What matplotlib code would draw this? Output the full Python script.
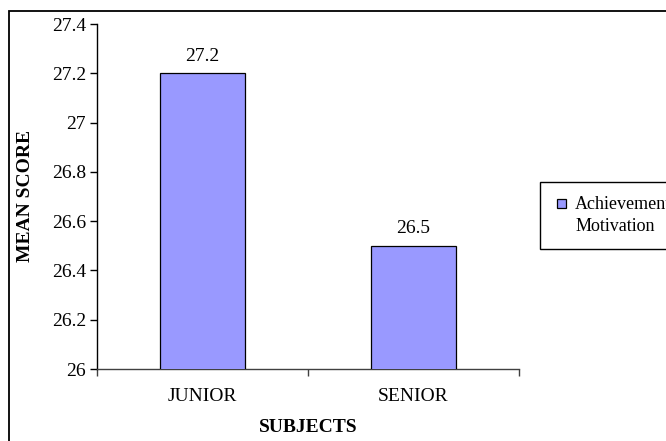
import matplotlib
matplotlib.use("Agg")
import matplotlib.pyplot as plt
from matplotlib.patches import Rectangle
from matplotlib.legend_handler import HandlerPatch
from matplotlib.ticker import FixedLocator

# data
categories = ["JUNIOR", "SENIOR"]
mean_scores = [27.2, 26.5]
series_name = "Achievement\nMotivation"
y_ticks = [26, 26.2, 26.4, 26.6, 26.8, 27, 27.2, 27.4]
y_tick_labels = ["26", "26.2", "26.4", "26.6", "26.8", "27", "27.2", "27.4"]

plt.rcParams["font.family"] = ["Liberation Serif", "DejaVu Serif"]
FS = 14

fig = plt.figure(figsize=(6.66, 4.41), dpi=100)
ax = fig.add_axes([97 / 666, 1 - 369 / 441, 422 / 666, 345 / 441])

# outer chart border (runs off right and bottom edges)
fig.patches.append(Rectangle((9 / 666, -0.2), 1.2, 1.2 - 11 / 441,
                             transform=fig.transFigure, fill=False,
                             edgecolor="black", linewidth=1.3))

x = list(range(len(categories)))
bars = ax.bar(x, mean_scores, width=0.4, color="#9999FF",
              edgecolor="black", linewidth=0.9, label=series_name, zorder=3)

for xi, v in zip(x, mean_scores):
    ax.annotate(f"{v}", (xi, v), xytext=(0, 6), textcoords="offset points",
                ha="center", va="bottom", fontsize=FS)

ax.set_xlim(-0.5, len(categories) - 0.5)
ax.set_ylim(y_ticks[0], y_ticks[-1])
ax.set_yticks(y_ticks)
ax.set_yticklabels(y_tick_labels, fontsize=FS)
ax.set_xticks(x)
ax.set_xticklabels(categories, fontsize=FS)
ax.xaxis.set_minor_locator(FixedLocator([-0.5, 0.5, 1.5]))

ax.tick_params(axis="x", which="major", length=0, pad=14)
ax.tick_params(axis="x", which="minor", length=5, width=1, color="#404040", direction="out")
ax.tick_params(axis="y", which="major", length=5, width=1, direction="out", pad=3)

for s in ["top", "right"]:
    ax.spines[s].set_visible(False)
ax.spines["left"].set_color("black")
ax.spines["bottom"].set_color("#404040")
ax.spines["left"].set_linewidth(1)
ax.spines["bottom"].set_linewidth(1)

ax.set_xlabel("SUBJECTS", fontsize=FS, fontweight="bold")
ax.xaxis.set_label_coords(0.5, (369 - 419) / 345)
ax.set_ylabel("MEAN SCORE", fontsize=FS, fontweight="bold")
ax.yaxis.set_label_coords((34 - 97) / 422, 0.5)

LEG_FS = 13


# legend square sits at the right of its slot, next to the first text line
def top_square(legend, orig_handle, xdescent, ydescent, width, height, fontsize):
    side = 0.5 * fontsize
    return Rectangle((-xdescent + width - side, -ydescent + 0.72 * fontsize), side, side)


handle = bars.patches[0]
leg = ax.legend([handle], [series_name],
                loc="upper left", bbox_to_anchor=(540 / 666, 1 - 182 / 441),
                bbox_transform=fig.transFigure, borderaxespad=0,
                fontsize=LEG_FS, frameon=True, fancybox=False, framealpha=1,
                edgecolor="black", handlelength=0.7, handleheight=0.5,
                handletextpad=0.5, borderpad=0.75,
                handler_map={handle: HandlerPatch(patch_func=top_square)})
leg.get_frame().set_linewidth(1)
leg.get_texts()[0].set_linespacing(1.45)

fig.savefig("out.png", dpi=100)
